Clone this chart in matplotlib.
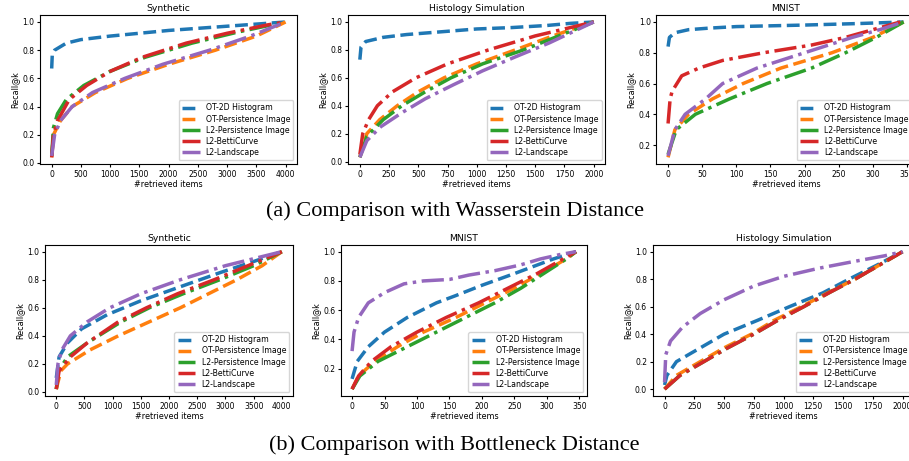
import matplotlib
matplotlib.use("Agg")
import matplotlib.pyplot as plt

methods = ["OT-2D Histogram", "OT-Persistence Image", "L2-Persistence Image",
           "L2-BettiCurve", "L2-Landscape"]
colors = ["#1f77b4", "#ff7f0e", "#2ca02c", "#d62728", "#9467bd"]
styles = ["--", "--", "-.", "-.", "-."]

# (a) Wasserstein -- Synthetic
wa_syn = {
    "OT-2D Histogram": ([0, 10, 50, 250, 500, 1000, 1500, 2000, 2500, 3000, 3500, 4000],
                        [0.67, 0.77, 0.80, 0.85, 0.875, 0.90, 0.92, 0.94, 0.955, 0.97, 0.985, 1.0]),
    "OT-Persistence Image": ([0, 30, 150, 350, 750, 1300, 2000, 2800, 3500, 4000],
                             [0.04, 0.20, 0.30, 0.40, 0.50, 0.60, 0.70, 0.80, 0.90, 1.0]),
    "L2-Persistence Image": ([0, 30, 100, 250, 550, 1000, 1600, 2400, 3200, 4000],
                             [0.05, 0.25, 0.35, 0.45, 0.55, 0.65, 0.75, 0.85, 0.93, 1.0]),
    "L2-BettiCurve": ([0, 30, 100, 300, 600, 1000, 1550, 2300, 3000, 3700, 4000],
                      [0.04, 0.20, 0.30, 0.45, 0.55, 0.65, 0.75, 0.85, 0.92, 0.98, 1.0]),
    "L2-Landscape": ([0, 50, 150, 350, 700, 1250, 1900, 2700, 3400, 4000],
                     [0.05, 0.20, 0.30, 0.40, 0.50, 0.60, 0.70, 0.80, 0.90, 1.0]),
}

# (a) Wasserstein -- Histology Simulation
wa_his = {
    "OT-2D Histogram": ([0, 10, 50, 200, 400, 700, 1000, 1300, 1600, 1800, 2000],
                        [0.73, 0.82, 0.86, 0.89, 0.91, 0.93, 0.95, 0.96, 0.975, 0.99, 1.0]),
    "OT-Persistence Image": ([0, 60, 170, 320, 500, 720, 1000, 1330, 1650, 2000],
                             [0.03, 0.20, 0.30, 0.40, 0.50, 0.60, 0.70, 0.80, 0.90, 1.0]),
    "L2-Persistence Image": ([0, 60, 200, 360, 560, 780, 1050, 1400, 1700, 2000],
                             [0.03, 0.18, 0.30, 0.40, 0.50, 0.60, 0.70, 0.80, 0.90, 1.0]),
    "L2-BettiCurve": ([0, 25, 75, 150, 280, 480, 750, 1100, 1500, 2000],
                      [0.05, 0.20, 0.30, 0.40, 0.50, 0.60, 0.70, 0.80, 0.90, 1.0]),
    "L2-Landscape": ([0, 60, 180, 360, 560, 800, 1050, 1330, 1620, 2000],
                     [0.03, 0.15, 0.25, 0.35, 0.45, 0.55, 0.65, 0.75, 0.85, 1.0]),
}

# (a) Wasserstein -- MNIST
wa_mni = {
    "OT-2D Histogram": ([0, 2, 10, 30, 60, 100, 200, 280, 345],
                        [0.84, 0.90, 0.93, 0.95, 0.96, 0.97, 0.98, 0.99, 1.0]),
    "OT-Persistence Image": ([0, 10, 30, 65, 110, 165, 240, 300, 345],
                             [0.12, 0.30, 0.40, 0.50, 0.60, 0.70, 0.80, 0.90, 1.0]),
    "L2-Persistence Image": ([0, 12, 40, 90, 145, 210, 260, 305, 345],
                             [0.14, 0.30, 0.40, 0.50, 0.60, 0.70, 0.80, 0.90, 1.0]),
    "L2-BettiCurve": ([0, 3, 6, 20, 45, 80, 140, 210, 260, 300, 340],
                      [0.34, 0.50, 0.55, 0.65, 0.70, 0.75, 0.80, 0.85, 0.90, 0.95, 1.0]),
    "L2-Landscape": ([0, 10, 25, 55, 80, 130, 200, 270, 310, 345],
                     [0.13, 0.30, 0.40, 0.50, 0.60, 0.70, 0.80, 0.90, 0.95, 1.0]),
}

# (b) Bottleneck -- Synthetic
bn_syn = {
    "OT-2D Histogram": ([0, 50, 200, 450, 900, 1500, 2200, 2900, 3500, 4000],
                        [0.10, 0.25, 0.35, 0.45, 0.55, 0.65, 0.75, 0.85, 0.93, 1.0]),
    "OT-Persistence Image": ([0, 80, 200, 600, 1100, 1650, 2200, 2700, 3200, 3650, 4000],
                             [0.02, 0.15, 0.20, 0.30, 0.40, 0.50, 0.60, 0.70, 0.80, 0.90, 1.0]),
    "L2-Persistence Image": ([0, 40, 200, 550, 1150, 1650, 2250, 2900, 3500, 4000],
                             [0.02, 0.15, 0.25, 0.35, 0.50, 0.60, 0.70, 0.80, 0.90, 1.0]),
    "L2-BettiCurve": ([0, 50, 250, 550, 1100, 1600, 2150, 2800, 3400, 4000],
                      [0.02, 0.15, 0.25, 0.35, 0.50, 0.60, 0.70, 0.80, 0.90, 1.0]),
    "L2-Landscape": ([0, 30, 100, 250, 550, 950, 1500, 2200, 3000, 4000],
                     [0.05, 0.20, 0.30, 0.40, 0.50, 0.60, 0.70, 0.80, 0.90, 1.0]),
}

# (b) Bottleneck -- MNIST
bn_mni = {
    "OT-2D Histogram": ([0, 8, 25, 50, 85, 130, 160, 200, 250, 280, 310, 345],
                        [0.13, 0.25, 0.35, 0.45, 0.55, 0.65, 0.70, 0.77, 0.85, 0.90, 0.95, 1.0]),
    "OT-Persistence Image": ([0, 10, 35, 70, 110, 160, 205, 250, 290, 330, 345],
                             [0.06, 0.15, 0.25, 0.35, 0.45, 0.55, 0.65, 0.75, 0.85, 0.95, 1.0]),
    "L2-Persistence Image": ([0, 12, 40, 85, 130, 175, 220, 260, 295, 330, 345],
                             [0.06, 0.15, 0.25, 0.35, 0.45, 0.55, 0.65, 0.75, 0.85, 0.95, 1.0]),
    "L2-BettiCurve": ([0, 10, 30, 60, 100, 145, 195, 240, 285, 325, 345],
                      [0.06, 0.15, 0.25, 0.35, 0.45, 0.55, 0.65, 0.75, 0.85, 0.95, 1.0]),
    "L2-Landscape": ([0, 3, 10, 25, 50, 80, 110, 150, 180, 220, 260, 290, 320, 345],
                     [0.32, 0.45, 0.55, 0.65, 0.72, 0.78, 0.80, 0.81, 0.84, 0.87, 0.91, 0.95, 0.98, 1.0]),
}

# (b) Bottleneck -- Histology Simulation
bn_his = {
    "OT-2D Histogram": ([0, 20, 100, 300, 500, 780, 1050, 1330, 1550, 1780, 2000],
                        [0.03, 0.10, 0.20, 0.30, 0.40, 0.50, 0.60, 0.70, 0.80, 0.90, 1.0]),
    "OT-Persistence Image": ([0, 100, 300, 500, 730, 920, 1150, 1370, 1600, 1800, 2000],
                             [0.0, 0.10, 0.20, 0.30, 0.40, 0.50, 0.60, 0.70, 0.80, 0.90, 1.0]),
    "L2-Persistence Image": ([0, 130, 330, 530, 750, 950, 1170, 1380, 1600, 1800, 2000],
                             [0.0, 0.10, 0.20, 0.30, 0.40, 0.50, 0.60, 0.70, 0.80, 0.90, 1.0]),
    "L2-BettiCurve": ([0, 130, 330, 530, 750, 950, 1170, 1380, 1600, 1800, 2000],
                      [0.0, 0.10, 0.20, 0.30, 0.40, 0.50, 0.60, 0.70, 0.80, 0.90, 1.0]),
    "L2-Landscape": ([0, 10, 50, 150, 300, 500, 750, 1000, 1300, 1600, 1850, 2000],
                     [0.05, 0.25, 0.35, 0.45, 0.55, 0.65, 0.75, 0.82, 0.88, 0.93, 0.97, 1.0]),
}

panels = [
    (wa_syn, "Synthetic", [0.044, 0.644, 0.283, 0.323]),
    (wa_his, "Histology Simulation", [0.383, 0.644, 0.283, 0.323]),
    (wa_mni, "MNIST", [0.722, 0.644, 0.285, 0.323]),
    (bn_syn, "Synthetic", [0.0495, 0.141, 0.273, 0.328]),
    (bn_mni, "MNIST", [0.375, 0.141, 0.271, 0.328]),
    (bn_his, "Histology Simulation", [0.718, 0.141, 0.288, 0.328]),
]

fig = plt.figure(figsize=(9.09, 4.61), dpi=100)

for data, title, pos in panels:
    ax = fig.add_axes(pos)
    for m, c, ls in zip(methods, colors, styles):
        x, y = data[m]
        ax.plot(x, y, ls, color=c, lw=2.5, label=m)
    ax.set_title(title, fontsize=6.7, pad=3)
    ax.set_xlabel("#retrieved items", fontsize=5.8, labelpad=1)
    ax.set_ylabel("Recall@k", fontsize=5.8, labelpad=2)
    ax.tick_params(labelsize=5.5, length=2.5, pad=1.5)
    ax.legend(loc="lower right", fontsize=5.6, handlelength=2.3,
              labelspacing=0.28, borderpad=0.4)

fig.text(0.5, 0.542, "(a) Comparison with Wasserstein Distance",
         ha="center", va="center", family="Liberation Serif", fontsize=16)
fig.text(0.5, 0.035, "(b) Comparison with Bottleneck Distance",
         ha="center", va="center", family="Liberation Serif", fontsize=16)

fig.savefig("out.png", dpi=100)
